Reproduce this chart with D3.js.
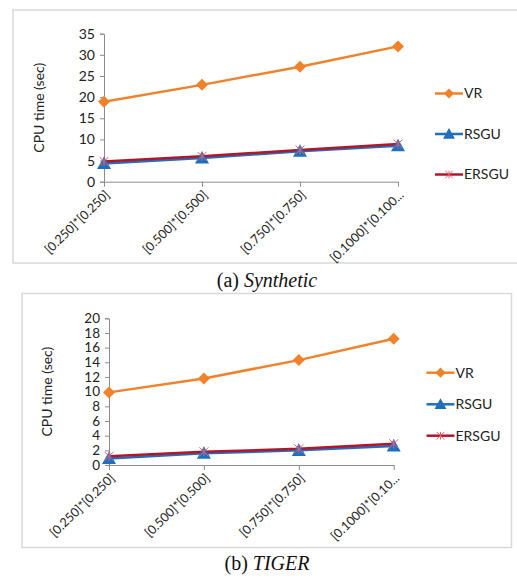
<!DOCTYPE html>
<html>
<head>
<meta charset="utf-8">
<script src="https://cdn.jsdelivr.net/npm/d3@7"></script>
<style>
  body { margin: 0; background: #fff; }
  svg { display: block; }
</style>
</head>
<body>
<script>
const categories = ['[0.250]*[0.250]', '[0.500]*[0.500]', '[0.750]*[0.750]', '[0.1000]*[0.100...']
const categoriesTiger = ['[0.250]*[0.250]', '[0.500]*[0.500]', '[0.750]*[0.750]', '[0.1000]*[0.10...']
const seriesNames = ['VR', 'RSGU', 'ERSGU']

// (a) Synthetic
const synVR = [18.9, 22.9, 27.2, 32.0]
const synRSGU = [4.3, 5.6, 7.2, 8.5]
const synERSGU = [4.8, 6.0, 7.5, 8.9]
const synTicks = [0, 5, 10, 15, 20, 25, 30, 35]

// (b) TIGER
const tigVR = [9.9, 11.8, 14.3, 17.2]
const tigRSGU = [0.9, 1.6, 2.0, 2.6]
const tigERSGU = [1.2, 1.8, 2.2, 2.9]
const tigTicks = [0, 2, 4, 6, 8, 10, 12, 14, 16, 18, 20]

const colors = {VR: '#f0822c', RSGU: '#1f6fbf', ERSGU: '#b0182a'}
const width = 517, height = 576

const svg = d3.select('body').append('svg')
    .attr('width', width)
    .attr('height', height)

const font = 'Lato, "Open Sans", sans-serif'

function drawPanel(cfg) {
  const g = svg.append('g')

  // outer frame
  g.append('rect')
      .attr('x', cfg.frame[0]).attr('y', cfg.frame[1])
      .attr('width', cfg.frame[2]).attr('height', cfg.frame[3])
      .attr('fill', 'none')
      .attr('stroke', '#d9d9d9')
      .attr('stroke-width', 1.5)

  const xScale = d3.scalePoint()
      .domain(cfg.cats)
      .range([cfg.x0, cfg.x1])

  const yScale = d3.scaleLinear()
      .domain([0, d3.max(cfg.ticks)])
      .range([cfg.yBottom, cfg.yTop])

  const yAxis = g.append('g')
      .attr('transform', 'translate(' + cfg.x0 + ',0)')
      .call(d3.axisLeft(yScale).tickValues(cfg.ticks).tickSize(4).tickPadding(5).tickSizeOuter(4))
  yAxis.selectAll('path, line').attr('stroke', '#8c8c8c')
  yAxis.selectAll('text')
      .style('font-family', font)
      .style('font-size', cfg.yFont + 'px')
      .attr('fill', '#222')

  const xAxis = g.append('g')
      .attr('transform', 'translate(0,' + cfg.yBottom + ')')
      .call(d3.axisBottom(xScale).tickSize(5).tickSizeOuter(0))
  xAxis.selectAll('path, line').attr('stroke', '#8c8c8c')
  xAxis.selectAll('text')
      .style('font-family', font)
      .style('font-size', '12.5px')
      .attr('fill', '#222')
      .style('text-anchor', 'end')
      .attr('x', 0)
      .attr('y', 0)
      .attr('dy', '0.35em')
      .attr('transform', 'translate(3,11)rotate(-44)')

  g.append('text')
      .attr('transform', 'translate(' + cfg.titleX + ',' + ((cfg.yTop + cfg.yBottom) / 2) + ')rotate(-90)')
      .attr('text-anchor', 'middle')
      .style('font-family', font)
      .style('font-size', '14px')
      .attr('fill', '#222')
      .text('CPU time (sec)')

  const line = d3.line()
      .x((d, i) => xScale(cfg.cats[i]))
      .y(d => yScale(d))

  const series = [
    {name: 'VR', values: cfg.vr},
    {name: 'RSGU', values: cfg.rsgu},
    {name: 'ERSGU', values: cfg.ersgu}
  ]

  series.forEach(s => {
    g.append('path')
        .datum(s.values)
        .attr('d', line)
        .attr('fill', 'none')
        .attr('stroke', colors[s.name])
        .attr('stroke-width', 2.5)
  })

  series.forEach(s => {
    s.values.forEach((v, i) => {
      drawMarker(g, s.name, xScale(cfg.cats[i]), yScale(v), 1)
    })
  })

  // legend
  seriesNames.forEach((name, i) => {
    const ly = cfg.legendY[i]
    g.append('line')
        .attr('x1', cfg.legendX).attr('x2', cfg.legendX + 28)
        .attr('y1', ly).attr('y2', ly)
        .attr('stroke', colors[name])
        .attr('stroke-width', 2.5)
    drawMarker(g, name, cfg.legendX + 14, ly, 0.85)
    g.append('text')
        .attr('x', cfg.legendX + 29)
        .attr('y', ly)
        .attr('dy', '0.35em')
        .style('font-family', font)
        .style('font-size', '14px')
        .attr('fill', '#222')
        .text(name)
  })

  // caption
  const cap = g.append('text')
      .attr('x', 267)
      .attr('y', cfg.captionY)
      .attr('text-anchor', 'middle')
      .style('font-family', '"Liberation Serif", "Times New Roman", serif')
      .style('font-size', '20px')
      .attr('fill', '#111')
  cap.append('tspan').text(cfg.captionA + ' ')
  cap.append('tspan').style('font-style', 'italic').text(cfg.captionB)
}

function drawMarker(g, name, x, y, k) {
  if (name === 'VR') {
    const r = 6 * k
    g.append('path')
        .attr('d', 'M' + x + ',' + (y - r) + 'L' + (x + r) + ',' + y + 'L' + x + ',' + (y + r) + 'L' + (x - r) + ',' + y + 'Z')
        .attr('fill', colors.VR)
  } else if (name === 'RSGU') {
    const r = 7 * k
    g.append('path')
        .attr('d', 'M' + x + ',' + (y - r) + 'L' + (x + r) + ',' + (y + r * 0.8) + 'L' + (x - r) + ',' + (y + r * 0.8) + 'Z')
        .attr('fill', colors.RSGU)
  } else {
    const r = 4.5 * k
    const star = g.append('g').attr('stroke', '#e0606e').attr('stroke-width', 1)
    star.append('line').attr('x1', x - r).attr('x2', x + r).attr('y1', y - r).attr('y2', y + r)
    star.append('line').attr('x1', x - r).attr('x2', x + r).attr('y1', y + r).attr('y2', y - r)
    star.append('line').attr('x1', x).attr('x2', x).attr('y1', y - r).attr('y2', y + r)
  }
}

drawPanel({
  frame: [13, 10, 510, 253],
  cats: categories,
  x0: 104, x1: 398,
  yTop: 33.7, yBottom: 181.7,
  ticks: synTicks, yFont: 14,
  titleX: 44,
  vr: synVR, rsgu: synRSGU, ersgu: synERSGU,
  legendX: 435, legendY: [93.5, 134, 174.5],
  captionA: '(a)', captionB: 'Synthetic', captionY: 287
})

drawPanel({
  frame: [22, 293.5, 489.5, 254],
  cats: categoriesTiger,
  x0: 109, x1: 393.7,
  yTop: 318.3, yBottom: 465,
  ticks: tigTicks, yFont: 13.5,
  titleX: 52,
  vr: tigVR, rsgu: tigRSGU, ersgu: tigERSGU,
  legendX: 426.5, legendY: [372.7, 404.3, 435.7],
  captionA: '(b)', captionB: 'TIGER', captionY: 570
})
</script>
</body>
</html>
